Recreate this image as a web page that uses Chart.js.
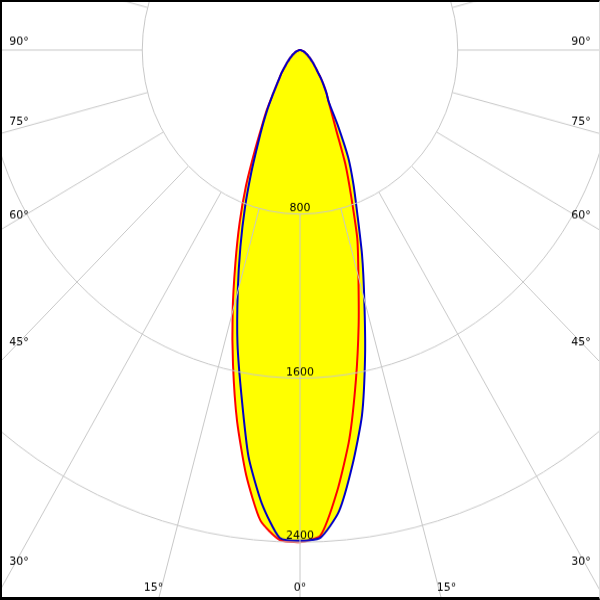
<!DOCTYPE html>
<html>
<head>
<meta charset="utf-8">
<script src="https://cdn.jsdelivr.net/npm/chart.js@4.4.1/dist/chart.umd.min.js"></script>
<style>
  html, body { margin: 0; padding: 0; background: #fff; overflow: hidden; }
  body { width: 600px; height: 600px; position: relative; }
  #wrap {
    position: absolute; left: -331px; top: -581px;
    width: 1262px; height: 1262px;
    transform-origin: 631px 631px; transform: scaleY(1.04);
  }
  #frame {
    position: absolute; left: 0; top: 0; width: 600px; height: 600px;
    box-sizing: border-box; pointer-events: none;
    border-left: 2px solid #000; border-top: 2px solid #000;
    border-bottom: 3px solid #000; border-right: 1px solid #ddd;
  }
</style>
</head>
<body>
<div id="wrap"><canvas id="canvas" width="1262" height="1262"></canvas></div>
<div id="frame"></div>
<script>
// gamma angles 0..90 in 2.5 deg steps, one array per half plane (cd)
var gammaStep = 2.5;
var c180 = [2400, 2390, 2303, 2091, 1838, 1570, 1320, 1090, 895, 715, 545, 420, 335,
  257, 205, 170, 145, 120, 100, 85, 72, 62, 52, 45, 38, 32, 27, 22, 18, 14, 11, 8, 6, 4, 2, 1, 0];
var c0 = [2400, 2370, 2160, 1915, 1633, 1374, 1145, 967, 758, 600, 440, 350, 290,
  250, 210, 175, 140, 118, 100, 85, 72, 62, 52, 45, 38, 32, 27, 22, 18, 14, 11, 8, 6, 4, 2, 1, 0];
var c270 = [2393, 2380, 2220, 2000, 1710, 1465, 1220, 1005, 815, 645, 505, 405, 325,
  255, 205, 170, 145, 120, 100, 85, 72, 62, 52, 45, 38, 32, 27, 22, 18, 14, 11, 8, 6, 4, 2, 1, 0];
var c90 = [2393, 2380, 2260, 2040, 1810, 1525, 1260, 1046, 850, 708, 579, 419, 290,
  250, 210, 175, 140, 118, 100, 85, 72, 62, 52, 45, 38, 32, 27, 22, 18, 14, 11, 8, 6, 4, 2, 1, 0];
var ringValues = [800, 1600, 2400];
var sideAngles = [90, 75, 60, 45, 30];
var bottomAngles = [15, 0, 15];

var STRETCH = 1.04;
var scaleMax = 3200;
var drawRadius = 631;

// full circle: left half (index 0 = straight down), upper hemisphere empty, right half
var count = 360 / gammaStep;
var labels = [];
for (var i = 0; i < count; i++) labels.push(i * gammaStep);

function fullCircle(left, right) {
  var n = left.length - 1;
  return labels.map(function (l, i) {
    if (i <= n) return left[i];
    if (i >= count - n) return right[count - i];
    return 0;
  });
}
var redData = fullCircle(c180, c0);
var blueData = fullCircle(c270, c90);

var labelPlugin = {
  id: 'polarLabels',
  afterDraw: function (chart) {
    var r = chart.scales.r;
    var ctx = chart.ctx;
    ctx.save();
    ctx.font = '11px "DejaVu Sans"';
    ctx.fillStyle = '#000';
    ctx.textAlign = 'center';
    ctx.textBaseline = 'middle';
    ringValues.forEach(function (v) {
      var d = r.getDistanceFromCenterForValue(v);
      ctx.fillText(String(v), r.xCenter, r.yCenter + d - 6 / STRETCH);
    });
    // screen (600x600) position -> canvas position
    function put(text, sx, sy) {
      ctx.fillText(text, r.xCenter + sx - 300, r.yCenter + (sy - 50) / STRETCH);
    }
    sideAngles.forEach(function (a) {
      var sy = 50 + 300 / Math.tan(a * Math.PI / 180) - 8;
      put(a + '°', 19, sy);
      put(a + '°', 581, sy);
    });
    bottomAngles.forEach(function (a, i) {
      var dx = 547 * Math.tan(a * Math.PI / 180);
      put(a + '°', i === 0 ? 300 - dx : 300 + dx, 588);
    });
    ctx.restore();
  }
};

var innerGap = drawRadius * ringValues[0] / scaleMax;

new Chart(document.getElementById('canvas').getContext('2d'), {
  type: 'radar',
  data: {
    labels: labels,
    datasets: [
      { label: 'C90-C270', data: blueData, borderColor: '#0000c8', borderWidth: 2, fill: false, pointRadius: 0 },
      { label: 'C0-C180', data: redData, borderColor: '#ff0000', borderWidth: 2, fill: false, pointRadius: 0 },
      { data: redData, fill: 'origin', backgroundColor: '#ffff00', borderColor: 'rgba(0,0,0,0)', borderWidth: 1, pointRadius: 0 },
      { data: blueData, fill: 'origin', backgroundColor: '#ffff00', borderColor: 'rgba(0,0,0,0)', borderWidth: 1, pointRadius: 0 }
    ]
  },
  options: {
    responsive: false,
    devicePixelRatio: 1,
    animation: false,
    events: [],
    layout: { padding: 0 },
    elements: { line: { tension: 0.2 } },
    plugins: { legend: { display: false }, tooltip: { enabled: false } },
    scales: {
      r: {
        startAngle: 180,
        min: 0,
        max: scaleMax,
        ticks: { display: false, stepSize: 800 },
        pointLabels: { display: false },
        grid: { circular: true, color: '#c8c8c8', lineWidth: 1, z: 1 },
        angleLines: {
          color: function (c) { return c.index % 6 === 0 ? '#c8c8c8' : 'rgba(0,0,0,0)'; },
          lineWidth: function (c) { return c.index % 6 === 0 ? 1 : 0; },
          borderDash: [4000, innerGap],
          borderDashOffset: 4000
        }
      }
    }
  },
  plugins: [labelPlugin]
});
</script>
</body>
</html>
